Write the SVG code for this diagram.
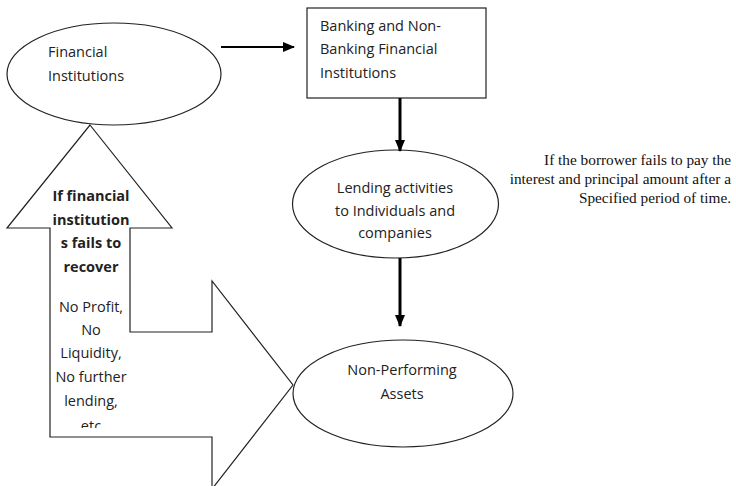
<svg xmlns="http://www.w3.org/2000/svg" width="736" height="486" viewBox="0 0 736 486">
<style>
.shape{fill:#fff;stroke:#222;stroke-width:1.2}
.t{font-family:"Open Sans","Noto Sans","Liberation Sans",sans-serif;font-size:14.5px;fill:#222}
.b{font-weight:bold}
.c{text-anchor:middle}
.s{font-family:"Liberation Serif","DejaVu Serif",serif;font-size:15.3px;fill:#111;text-anchor:end}
.conn{stroke:#000;fill:none}
</style>
<defs>
<marker id="ah" markerUnits="userSpaceOnUse" markerWidth="12" markerHeight="10" refX="11" refY="5" orient="auto">
<path d="M0,0 L12,5 L0,10 Z" fill="#000"/>
</marker>
<clipPath id="clipArrow"><rect x="40" y="180" width="110" height="248"/></clipPath>
</defs>
<rect width="736" height="486" fill="#fff"/>

<g id="recovery-arrow">
<path class="shape" d="M90,125 L172,228 L130,228 L130,332 L212,332 L212,281 L293,385 L212,489 L212,437 L50,437 L50,228 L7,228 Z"/>
<g clip-path="url(#clipArrow)">
<text class="t b c" x="91" y="201">If financial</text>
<text class="t b c" x="91" y="225">institution</text>
<text class="t b c" x="91" y="248">s fails to</text>
<text class="t b c" x="91" y="272">recover</text>
<text class="t c" x="91" y="312">No Profit,</text>
<text class="t c" x="91" y="335">No</text>
<text class="t c" x="91" y="358">Liquidity,</text>
<text class="t c" x="91" y="382">No further</text>
<text class="t c" x="91" y="406">lending,</text>
<text class="t c" x="91" y="431">etc</text>
</g>
</g>

<g id="financial-institutions">
<ellipse class="shape" cx="114" cy="74" rx="107" ry="51"/>
<text class="t" x="48" y="57">Financial</text>
<text class="t" x="48" y="81">Institutions</text>
</g>

<g id="banking-nbfi">
<rect class="shape" x="307" y="8" width="179" height="90"/>
<text class="t" x="320" y="31">Banking and Non-</text>
<text class="t" x="320" y="54">Banking Financial</text>
<text class="t" x="320" y="78">Institutions</text>
</g>

<g id="lending-activities">
<ellipse class="shape" cx="395.5" cy="204" rx="103" ry="54"/>
<text class="t c" x="395" y="193">Lending activities</text>
<text class="t c" x="395" y="216">to Individuals and</text>
<text class="t c" x="395" y="238">companies</text>
</g>

<g id="npa">
<ellipse class="shape" cx="403" cy="393.5" rx="110" ry="53.5"/>
<text class="t c" x="402" y="375">Non-Performing</text>
<text class="t c" x="402" y="399">Assets</text>
</g>

<g id="condition-note">
<text class="s" x="731" y="165">If the borrower fails to pay the</text>
<text class="s" x="731" y="184">interest and principal amount after a</text>
<text class="s" x="731" y="203">Specified period of time.</text>
</g>

<g id="connectors">
<line class="conn" x1="221" y1="47" x2="294" y2="47" stroke-width="2" marker-end="url(#ah)"/>
<line class="conn" x1="400" y1="98" x2="400" y2="151" stroke-width="3" marker-end="url(#ah)"/>
<line class="conn" x1="400" y1="258" x2="400" y2="326" stroke-width="3" marker-end="url(#ah)"/>
</g>
</svg>
